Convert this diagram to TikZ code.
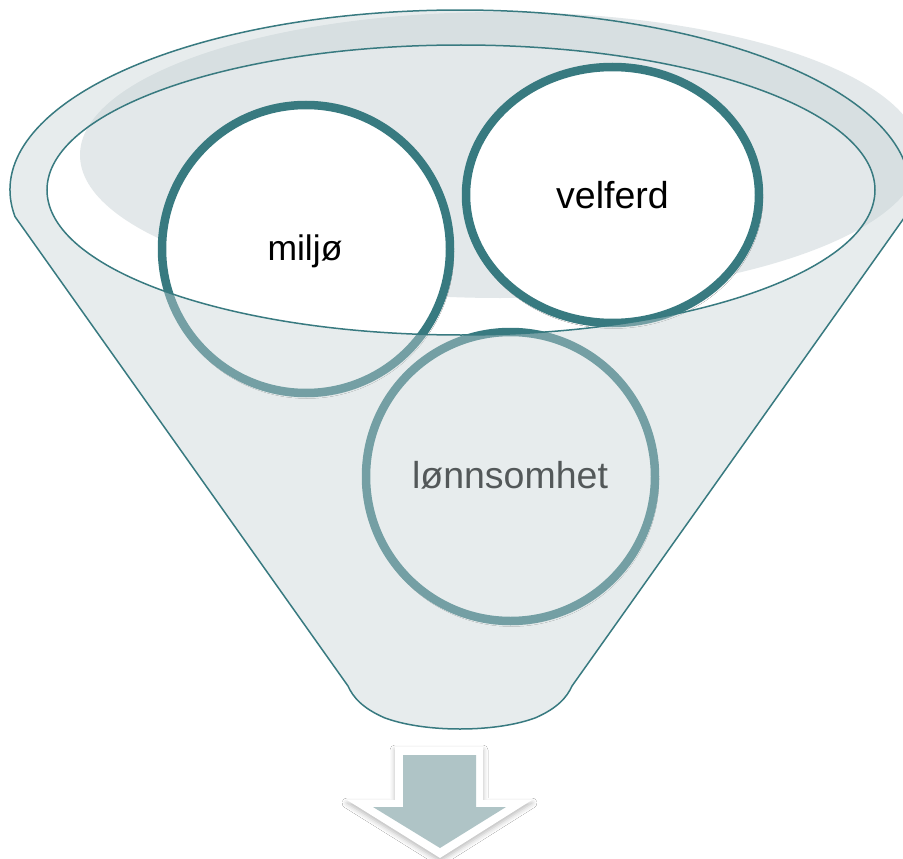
\documentclass[tikz,border=0pt]{standalone}
\usepackage{fontspec}
\setmainfont{Liberation Sans}
\usetikzlibrary{shapes.geometric,shadows.blur}
\definecolor{funnelteal}{RGB}{56,122,128}
\definecolor{bowlshade}{RGB}{227,232,234}
\definecolor{glass}{RGB}{200,212,214}
\definecolor{arrowgray}{RGB}{175,196,198}
\tikzset{
  ball/.style={ellipse, draw=funnelteal, line width=8.5pt, fill=white, inner sep=0pt,
    blur shadow={shadow xshift=1pt, shadow yshift=-2.5pt, shadow blur radius=3pt, shadow opacity=25}},
  word/.style={anchor=base, font=\fontsize{37.5}{42}\selectfont, text=black, inner sep=0pt},
  funnelbody/.style={fill=glass, fill opacity=0.42, draw=funnelteal, line width=1.5pt, even odd rule},
}
\begin{document}
\begin{tikzpicture}[x=1pt,y=-1pt]
\useasboundingbox (0,0) rectangle (903,859);
\fill[white] (0,0) rectangle (903,859);

% shading in the mouth of the funnel
\fill[bowlshade] (500,155) ellipse[x radius=420, y radius=143];

% the three balls
\node[ball, minimum width=288pt, minimum height=288pt] (miljo) at (306,249) {};
\node[ball, minimum width=293pt, minimum height=256pt] (velferd) at (612.5,195) {};
\node[ball, minimum width=289pt, minimum height=289pt] (lonn) at (510.5,476.5) {};

\node[word, font=\fontsize{35.5}{40}\selectfont] (tmiljo) at (305,260) {miljø};
\node[word] (tvelferd) at (612.5,208) {velferd};
\node[word] (tlonn) at (510,488) {lønnsomhet};

% translucent funnel body with its open mouth
\path[funnelbody]
  (460,190) ++(171.5:450 and 180)
  arc[start angle=171.5, end angle=368.5, x radius=450, y radius=180]
  -- (572,686) .. controls (567,697) and (558,708) .. (535,718)
  .. controls (510,727) and (480,729) .. (460,729)
  .. controls (440,729) and (410,727) .. (385,718)
  .. controls (362,708) and (353,697) .. (348,686) -- cycle
  (461,190) ellipse[x radius=414, y radius=145];

% output arrow
\fill[white, blur shadow={shadow xshift=0pt, shadow yshift=-3pt, shadow blur radius=5pt, shadow opacity=28}]
  (395,747) -- (483,747) -- (483,800) -- (532,800) -- (440,858) -- (347,800) -- (395,800) -- cycle;
\fill[arrowgray]
  (403,755) -- (476,755) -- (476,807) -- (506,807) -- (440,848) -- (373,807) -- (403,807) -- cycle;
\end{tikzpicture}
\end{document}
